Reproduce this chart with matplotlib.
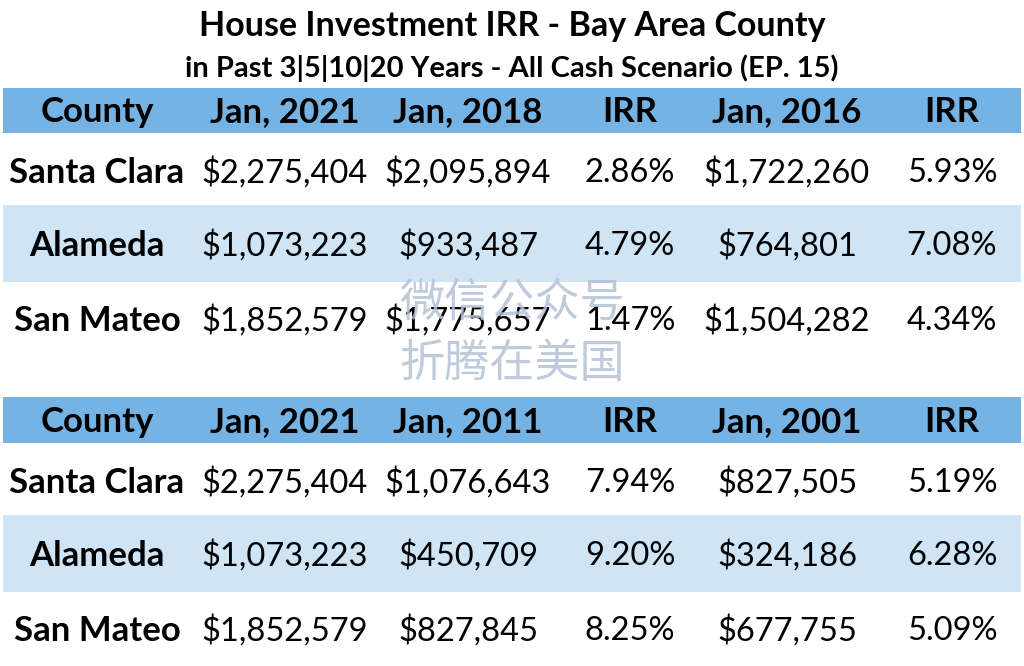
import matplotlib.pyplot as plt
from matplotlib.patches import Rectangle

plt.rcParams['font.family'] = ['Lato', 'Noto Sans CJK SC', 'DejaVu Sans']

title = 'House Investment IRR - Bay Area County'
subtitle = 'in Past 3|5|10|20 Years - All Cash Scenario (EP. 15)'

counties = ['Santa Clara', 'Alameda', 'San Mateo']

header_top = ['County', 'Jan, 2021', 'Jan, 2018', 'IRR', 'Jan, 2016', 'IRR']
jan2021 = ['$2,275,404', '$1,073,223', '$1,852,579']
jan2018 = ['$2,095,894', '$933,487', '$1,775,657']
irr_3yr = ['2.86%', '4.79%', '1.47%']
jan2016 = ['$1,722,260', '$764,801', '$1,504,282']
irr_5yr = ['5.93%', '7.08%', '4.34%']

header_bot = ['County', 'Jan, 2021', 'Jan, 2011', 'IRR', 'Jan, 2001', 'IRR']
jan2011 = ['$1,076,643', '$450,709', '$827,845']
irr_10yr = ['7.94%', '9.20%', '8.25%']
jan2001 = ['$827,505', '$324,186', '$677,755']
irr_20yr = ['5.19%', '6.28%', '5.09%']

watermark = ['微信公众号', '折腾在美国']

HEAD = '#74b3e4'
BAND = '#cfe5f6'

fig = plt.figure(figsize=(10.24, 6.66), dpi=100)
ax = fig.add_axes([0, 0, 1, 1])
ax.set_xlim(0, 1024)
ax.set_ylim(666, 0)
ax.axis('off')

col_x = [97, 285, 468, 630, 787, 952]
left, right = 3, 1021


def draw_block(header, cols, head_top, head_bot, row_mid, band_rows):
    ax.add_patch(Rectangle((left, head_top), right - left, head_bot - head_top,
                           color=HEAD, lw=0, zorder=1))
    hy = (head_top + head_bot) / 2 + 2
    for x, h in zip(col_x, header):
        ax.text(x, hy, h, ha='center', va='center', fontsize=25,
                fontweight='bold', zorder=3)
    for (b0, b1) in band_rows:
        ax.add_patch(Rectangle((left, b0), right - left, b1 - b0,
                               color=BAND, lw=0, zorder=1))
    for i, y in enumerate(row_mid):
        ax.text(col_x[0], y + 1, counties[i], ha='center', va='center',
                fontsize=25, fontweight='bold', zorder=3)
        for x, c in zip(col_x[1:], cols):
            ax.text(x, y + 1, c[i], ha='center', va='center', fontsize=23.5,
                    zorder=3)


ax.text(512, 26, title, ha='center', va='center', fontsize=24.5, fontweight='bold')
ax.text(512, 68, subtitle, ha='center', va='center', fontsize=21, fontweight='bold')

draw_block(header_top, [jan2021, jan2018, irr_3yr, jan2016, irr_5yr],
           88, 133, [172, 245, 320], [(205, 282)])
draw_block(header_bot, [jan2021, jan2011, irr_10yr, jan2001, irr_20yr],
           397, 443, [482, 555, 630], [(515, 592)])

for y, w in zip([303, 364], watermark):
    ax.text(512, y, w, ha='center', va='center', fontsize=32.5,
            family=['Noto Sans CJK SC', 'DejaVu Sans'], color='#b4c2d6',
            alpha=0.85, zorder=4)

fig.savefig('out.png', dpi=100)
